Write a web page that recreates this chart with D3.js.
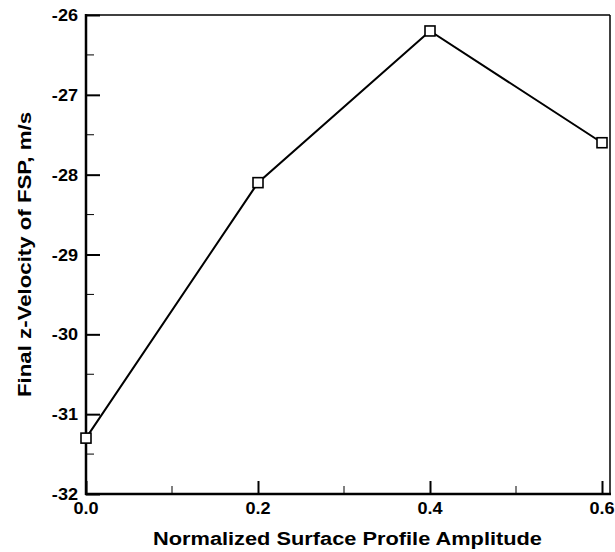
<!DOCTYPE html>
<html>
<head>
<meta charset="utf-8">
<script src="https://cdn.jsdelivr.net/npm/d3@7"></script>
<style>
  body { margin: 0; background: #fff; }
  svg text { font-family: Arial, "Liberation Sans", sans-serif; font-weight: bold; fill: #000; }
</style>
</head>
<body>
<svg width="615" height="552"></svg>
<script>
// values
let amplitude = [0.0, 0.2, 0.4, 0.6];
let zVelocity = [-31.3, -28.1, -26.2, -27.6];
let xTicks = [0.0, 0.2, 0.4, 0.6];
let xMinor = [0.1, 0.3, 0.5];
let yTicks = [-32, -31, -30, -29, -28, -27, -26];
let yMinor = [-31.5, -30.5, -29.5, -28.5, -27.5, -26.5];

let svg = d3.select('svg');
let pLeft = 86, pRight = 610, pTop = 15, pBottom = 494;
let stretch = 1.13; // the original font is a bit wider than Arial

let x = d3.scaleLinear().domain([0, 0.6093]).range([pLeft, pRight]);
let y = d3.scaleLinear().domain([-32, -26]).range([pBottom, pTop]);

// frame
svg.append('line').attr('x1', pLeft).attr('x2', pRight).attr('y1', pTop).attr('y2', pTop)
  .attr('stroke', '#000').attr('stroke-width', 1.5);
svg.append('line').attr('x1', pRight).attr('x2', pRight).attr('y1', pTop).attr('y2', pBottom)
  .attr('stroke', '#000').attr('stroke-width', 1.5);

// left axis, ticks pointing inward
let yAxis = svg.append('g').attr('transform', 'translate(' + pLeft + ',0)');
yAxis.call(d3.axisRight(y).tickValues(yTicks).tickSize(14).tickFormat(''));
yAxis.select('.domain').remove();
yAxis.selectAll('line').attr('stroke-width', 2);
yAxis.selectAll('.minor').data(yMinor).enter().append('line')
  .attr('x1', 0).attr('x2', 8).attr('y1', d => y(d)).attr('y2', d => y(d))
  .attr('stroke', '#000').attr('stroke-width', 1);
yAxis.selectAll('.lbl').data(yTicks).enter().append('text')
  .attr('transform', d => 'translate(-8,' + y(d) + ') scale(' + stretch + ',1)')
  .attr('dy', '0.38em')
  .attr('text-anchor', 'end').style('font-size', '16px')
  .text(d => d);

// bottom axis
let xAxis = svg.append('g').attr('transform', 'translate(0,' + pBottom + ')');
xAxis.call(d3.axisTop(x).tickValues(xTicks).tickSize(13).tickFormat(''));
xAxis.select('.domain').remove();
xAxis.selectAll('line').attr('stroke-width', 2);
xAxis.selectAll('.minor').data(xMinor).enter().append('line')
  .attr('x1', d => x(d)).attr('x2', d => x(d)).attr('y1', 0).attr('y2', -8)
  .attr('stroke', '#000').attr('stroke-width', 1);
xAxis.selectAll('.lbl').data(xTicks).enter().append('text')
  .attr('transform', d => 'translate(' + x(d) + ',19.5) scale(' + stretch + ',1)')
  .attr('text-anchor', 'middle').style('font-size', '16px')
  .text(d => d.toFixed(1));

svg.append('line').attr('x1', pLeft).attr('x2', pLeft).attr('y1', pTop - 1).attr('y2', pBottom + 1)
  .attr('stroke', '#000').attr('stroke-width', 2.5);
svg.append('line').attr('x1', pLeft - 1).attr('x2', pRight + 1).attr('y1', pBottom).attr('y2', pBottom)
  .attr('stroke', '#000').attr('stroke-width', 2.5);

// data line
let pts = amplitude.map((a, i) => ({x: a, y: zVelocity[i]}));
svg.append('path').datum(pts)
  .attr('fill', 'none').attr('stroke', '#000').attr('stroke-width', 2)
  .attr('d', d3.line().x(d => x(d.x)).y(d => y(d.y)));

svg.selectAll('.pt').data(pts).enter().append('rect')
  .attr('x', d => x(d.x) - 5).attr('y', d => y(d.y) - 5)
  .attr('width', 10).attr('height', 10)
  .attr('fill', '#fff').attr('stroke', '#000').attr('stroke-width', 1.6);

// titles
svg.append('text').attr('x', 347.5).attr('y', 545)
  .attr('text-anchor', 'middle').style('font-size', '18px')
  .attr('textLength', 389).attr('lengthAdjust', 'spacingAndGlyphs')
  .text('Normalized Surface Profile Amplitude');
svg.append('text')
  .attr('transform', 'translate(31,254.5) rotate(-90)')
  .attr('text-anchor', 'middle').style('font-size', '17.5px')
  .attr('textLength', 285).attr('lengthAdjust', 'spacingAndGlyphs')
  .text('Final z-Velocity of FSP, m/s');
</script>
</body>
</html>
